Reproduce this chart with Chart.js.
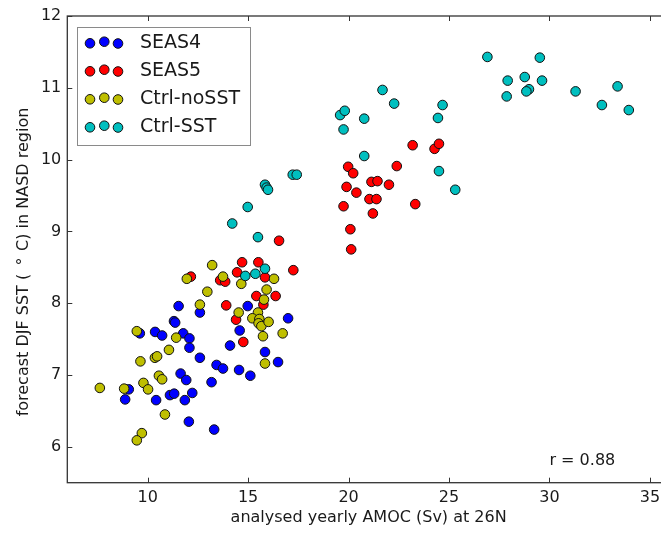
<!DOCTYPE html>
<html lang="en">
<head>
<meta charset="UTF-8">
<title>AMOC vs SST</title>
<script src="https://cdn.jsdelivr.net/npm/chart.js"></script>
<style>
    html, body { margin: 0; padding: 0; background: #fff; overflow: hidden; }
    #wrap { width: 661px; height: 534px; overflow: hidden; }
</style>
</head>
<body>
<div id="wrap"><canvas id="grafico" width="680" height="534"></canvas></div>
<script>
    // dados (x = AMOC em Sv, y = SST em graus C)
    var seriesNames = ['SEAS4', 'SEAS5', 'Ctrl-noSST', 'Ctrl-SST']
    var seriesColors = ['#0000ff', '#ff0000', '#bfbf00', '#00bfbf']

    var seas4X = [11.54, 12.60, 11.31, 11.37, 14.98, 16.99, 14.58, 9.61, 10.37, 10.72, 11.77, 12.08, 12.08, 14.10, 15.84, 12.60, 16.49,
        13.43, 13.75, 14.55, 15.11, 11.64, 11.92, 13.18, 9.06, 8.88, 10.42, 11.11, 11.32, 12.22, 11.85, 12.05, 13.31]
    var seas4Y = [7.96, 7.87, 7.75, 7.73, 7.96, 7.79, 7.62, 7.58, 7.60, 7.55, 7.58, 7.51, 7.38, 7.41, 7.32, 7.24, 7.18,
        7.14, 7.09, 7.07, 6.99, 7.02, 6.93, 6.90, 6.80, 6.66, 6.65, 6.72, 6.74, 6.75, 6.65, 6.35, 6.24]

    var seas5X = [23.19, 24.28, 24.50, 19.98, 20.23, 22.40, 21.14, 21.44, 22.01, 19.90, 20.39, 19.75, 21.04, 21.39, 23.32, 21.21, 20.09,
        20.13, 16.54, 17.25, 14.70, 15.51, 14.45, 12.15, 13.61, 13.86, 15.84, 15.41, 15.76, 16.37, 13.91, 14.40, 14.76]
    var seas5Y = [10.20, 10.15, 10.22, 9.90, 9.81, 9.91, 9.69, 9.70, 9.65, 9.62, 9.54, 9.35, 9.45, 9.45, 9.38, 9.25, 9.03,
        8.75, 8.87, 8.46, 8.57, 8.57, 8.43, 8.37, 8.32, 8.30, 8.36, 8.10, 7.98, 8.10, 7.97, 7.77, 7.46]

    var noSstX = [13.21, 11.95, 13.75, 14.66, 16.29, 15.92, 12.97, 12.60, 15.79, 14.53, 15.49, 15.21, 15.56, 15.52, 15.66, 16.02, 16.72,
        15.74, 15.84, 9.46, 11.42, 9.64, 11.06, 10.36, 10.47, 10.56, 10.72, 9.79, 10.02, 7.62, 8.83, 10.86, 9.71, 9.46]
    var noSstY = [8.53, 8.34, 8.37, 8.27, 8.34, 8.19, 8.16, 7.98, 8.05, 7.87, 7.87, 7.79, 7.78, 7.72, 7.68, 7.74, 7.58,
        7.54, 7.16, 7.61, 7.52, 7.19, 7.35, 7.24, 7.26, 6.99, 6.94, 6.89, 6.80, 6.82, 6.81, 6.45, 6.19, 6.09]

    var sstX = [26.91, 29.52, 27.92, 28.77, 29.63, 27.87, 28.98, 28.85, 31.30, 33.39, 32.61, 33.95, 21.69, 22.27, 19.58, 19.81, 19.75,
        20.78, 24.68, 24.45, 20.78, 24.50, 25.31, 17.22, 17.42, 15.84, 15.92, 15.99, 14.98, 14.21, 15.49, 15.84, 14.86, 15.36]
    var sstY = [11.43, 11.42, 11.10, 11.15, 11.10, 10.88, 10.98, 10.95, 10.95, 11.02, 10.76, 10.69, 10.97, 10.78, 10.62, 10.68, 10.42,
        10.57, 10.76, 10.58, 10.05, 9.84, 9.58, 9.79, 9.79, 9.65, 9.61, 9.58, 9.34, 9.11, 8.92, 8.48, 8.38, 8.41]

    var xTicks = [10, 15, 20, 25, 30, 35]
    var yTicks = [6, 7, 8, 9, 10, 11, 12]
    var rTexto = 'r = 0.88'
    var rPos = [30, 5.75] // posicao do texto em coordenadas dos dados
    var tituloY = 'forecast DJF SST ( \u2009\u00b0\u200a C) in NASD region'

    var fonte = 'DejaVu Sans'
    var corTexto = '#1a1a1a'
    var corEixo = '#333'

    function pontos(xs, ys) {
        return xs.map((x, i) => ({ x: x, y: ys[i] }))
    }

    var todos = [[seas4X, seas4Y], [seas5X, seas5Y], [noSstX, noSstY], [sstX, sstY]]

    const datasets = todos.map((par, i) => ({
        label: seriesNames[i],
        data: pontos(par[0], par[1]),
        backgroundColor: seriesColors[i],
        borderColor: '#111',
        borderWidth: 1,
        pointRadius: 4.8,
        order: 4 - i // ultima serie por cima, como no matplotlib
    }))

    // moldura com ticks para dentro + titulo y + texto r + legenda
    const molduraPlugin = {
        id: 'moldura',
        afterDraw(chart) {
            const ctx = chart.ctx
            const a = chart.chartArea
            const sx = chart.scales.x
            const sy = chart.scales.y
            ctx.save()
            ctx.strokeStyle = corEixo
            ctx.lineWidth = 1.3
            ctx.strokeRect(a.left, a.top, a.right - a.left, a.bottom - a.top)

            ctx.lineWidth = 1
            ctx.beginPath()
            xTicks.forEach(v => {
                const p = Math.round(sx.getPixelForValue(v)) + 0.5
                ctx.moveTo(p, a.bottom); ctx.lineTo(p, a.bottom - 5)
                ctx.moveTo(p, a.top); ctx.lineTo(p, a.top + 5)
            })
            yTicks.forEach(v => {
                const p = Math.round(sy.getPixelForValue(v)) + 0.5
                ctx.moveTo(a.left, p); ctx.lineTo(a.left + 5, p)
                ctx.moveTo(a.right, p); ctx.lineTo(a.right - 5, p)
            })
            ctx.stroke()

            // titulo do eixo y (um pouco abaixo do centro, como no original)
            ctx.fillStyle = corTexto
            ctx.font = '16px "' + fonte + '"'
            ctx.save()
            ctx.translate(23.5, 262)
            ctx.rotate(-Math.PI / 2)
            ctx.textAlign = 'center'
            ctx.textBaseline = 'middle'
            ctx.fillText(tituloY, 0, 0)
            ctx.restore()

            // texto da correlacao
            ctx.textAlign = 'left'
            ctx.textBaseline = 'alphabetic'
            ctx.fillText(rTexto, sx.getPixelForValue(rPos[0]), sy.getPixelForValue(rPos[1]))

            // legenda dentro do grafico
            const x0 = a.left + 10
            const y0 = a.top + 10.7
            ctx.fillStyle = '#fff'
            ctx.fillRect(x0, y0, 173.4, 118.3)
            ctx.strokeStyle = '#8a8a8a'
            ctx.lineWidth = 1
            ctx.strokeRect(Math.round(x0) + 0.5, Math.round(y0) + 0.5, 173, 118)
            const offs = [[12.7, 0.6], [27, -1], [40.7, 0.8]]
            chart.data.datasets.forEach((ds, i) => {
                const cy = y0 + 16 + i * 28
                offs.forEach(o => {
                    ctx.beginPath()
                    ctx.arc(x0 + o[0], cy + o[1], 4.8, 0, Math.PI * 2)
                    ctx.fillStyle = ds.backgroundColor
                    ctx.fill()
                    ctx.strokeStyle = '#111'
                    ctx.stroke()
                })
                ctx.fillStyle = corTexto
                ctx.font = '19px "' + fonte + '"'
                ctx.textBaseline = 'middle'
                ctx.fillText(ds.label, x0 + 62.7, cy)
            })
            ctx.restore()
        }
    }

    new Chart(document.getElementById('grafico'), {
        type: 'scatter',
        data: { datasets: datasets },
        options: {
            responsive: false,
            animation: false,
            devicePixelRatio: 1,
            layout: { padding: { left: 0, top: 16, right: 10, bottom: 0 } },
            plugins: {
                legend: { display: false },
                tooltip: { enabled: false }
            },
            scales: {
                x: {
                    type: 'linear',
                    min: 6,
                    max: 36,
                    grid: { display: false, drawTicks: false },
                    border: { display: false },
                    afterBuildTicks: s => { s.ticks = xTicks.map(v => ({ value: v })) },
                    afterFit: s => { s.height = 51.3 },
                    ticks: { font: { family: fonte, size: 16 }, color: corTexto, padding: 6, maxRotation: 0 },
                    title: {
                        display: true,
                        text: 'analysed yearly AMOC (Sv) at 26N',
                        font: { family: fonte, size: 16 },
                        color: corTexto,
                        padding: { top: 0, bottom: 6.4 }
                    }
                },
                y: {
                    type: 'linear',
                    min: 5.5,
                    max: 12,
                    grid: { display: false, drawTicks: false },
                    border: { display: false },
                    afterBuildTicks: s => { s.ticks = yTicks.map(v => ({ value: v })) },
                    afterFit: s => { s.width = 67.3 },
                    ticks: { font: { family: fonte, size: 16 }, color: corTexto, padding: 6 },
                    title: { display: false }
                }
            }
        },
        plugins: [molduraPlugin]
    })
</script>
</body>
</html>
